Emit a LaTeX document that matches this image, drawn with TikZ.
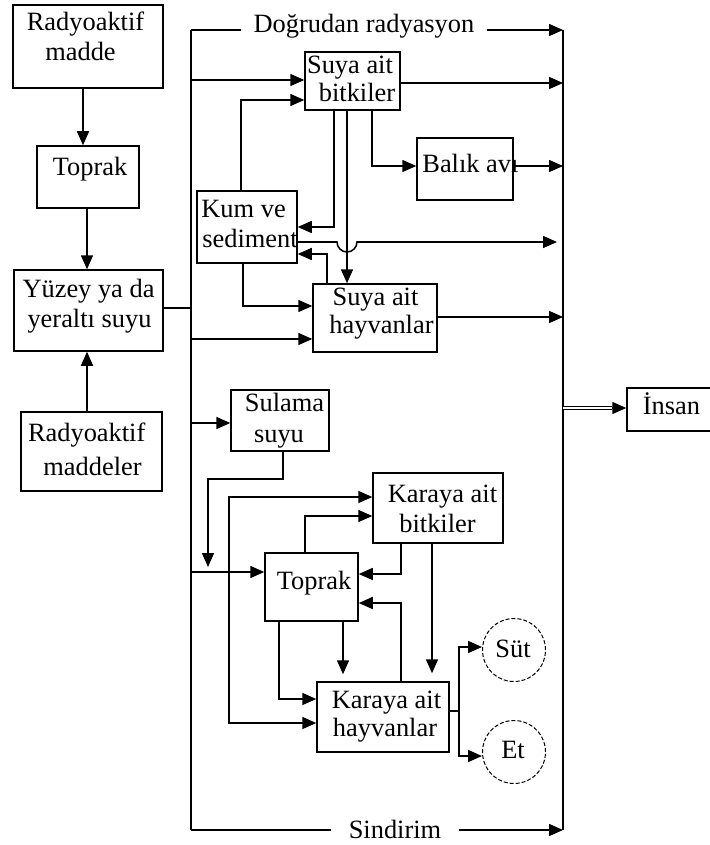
\documentclass[tikz,border=0pt]{standalone}
\usepackage{fontspec}
\setmainfont{Liberation Serif}
\usetikzlibrary{arrows.meta}
\begin{document}
\begin{tikzpicture}[x=0.5pt,y=-0.5pt,
  every node/.style={font=\fontsize{13.2}{15}\selectfont},
  bx/.style 2 args={draw, line width=0.75pt, minimum width={#1*0.5pt}, minimum height={#2*0.5pt}, inner sep=0pt},
  cir/.style={draw, circle, line width=0.5pt, dash pattern=on 2pt off 1pt, minimum size=31.5pt, inner sep=0pt},
  ln/.style={anchor=base, inner sep=0pt},
  lnw/.style={anchor=base west, inner sep=0pt},
  wire/.style={line width=0.75pt},
  arr/.style={line width=0.75pt, -{Triangle[length=7pt,width=6pt]}},
  arrs/.style={line width=0.75pt, {Triangle[length=7pt,width=6pt]}-{Triangle[length=7pt,width=6pt]}}]
\useasboundingbox (0,0) rectangle (710,845);
\clip (0,0) rectangle (710,845);

% left column
\node[bx={150}{83}] (rm) at (88,46.5) {};
\node[ln] (rmA) at (85.5,30.7) {Radyoaktif};
\node[ln] (rmB) at (80.5,60.7) {madde};
\node[bx={102}{62}] (tpL) at (88,177) {};
\node[ln] (tpLA) at (90,175.7) {Toprak};
\node[bx={149}{81}] (yuz) at (88.5,310.5) {};
\node[ln] (yuzA) at (88.5,297) {Yüzey ya da};
\node[ln] (yuzB) at (89.5,327) {yeraltı suyu};
\node[bx={141}{79}] (rmd) at (91.5,451.5) {};
\node[ln] (rmdA) at (86.7,441.7) {Radyoaktif};
\node[ln] (rmdB) at (92.5,475) {maddeler};

% aquatic part
\node[bx={95}{58}] (bitk) at (352.5,81) {};
\node[ln] (bitkA) at (350,73.3) {Suya ait};
\node[ln] (bitkB) at (357,101.7) {bitkiler};
\node[bx={96}{62}] (balik) at (465,169) {};
\node[lnw] (balikA) at (422,172.3) {Balık avı};
\node[bx={100}{72}] (kum) at (247,227) {};
\node[lnw] (kumA) at (201,217.3) {Kum ve};
\node[lnw] (kumB) at (202,247.3) {sediment};
\node[bx={124}{68}] (sh) at (375,318) {};
\node[ln] (shA) at (375.5,305) {Suya ait};
\node[ln] (shB) at (381.5,333.3) {hayvanlar};

% terrestrial part
\node[bx={98}{61}] (sul) at (280,420.5) {};
\node[ln] (sulA) at (284.5,411.7) {Sulama};
\node[ln] (sulB) at (279,442.7) {suyu};
\node[bx={130}{70}] (kb) at (438,508) {};
\node[ln] (kbA) at (442.5,502.7) {Karaya ait};
\node[ln] (kbB) at (437.5,532.3) {bitkiler};
\node[bx={93}{68}] (tpR) at (311.5,587) {};
\node[ln] (tpRA) at (314,589.3) {Toprak};
\node[bx={132}{70}] (kh) at (383,717) {};
\node[ln] (khA) at (386.5,708.3) {Karaya ait};
\node[ln] (khB) at (385,736) {hayvanlar};
\node[cir] (sut) at (514,650) {};
\node[ln] (sutA) at (513,657) {Süt};
\node[cir] (et) at (514,752) {};
\node[ln] (etA) at (513,758) {Et};

% receiver
\node[bx={90}{43}] (ins) at (672,409.5) {};
\node[ln] (insA) at (671.5,414.3) {İnsan};

% trunks
\coordinate (LT) at (191,30);
\coordinate (LB) at (191,830);
\coordinate (RT) at (563,30);
\coordinate (RB) at (563,830);
\draw[wire] (LT) -- (LB);
\draw[wire] (RT) -- (RB);

\node[ln, inner xsep=6pt] (dr) at (364,32.7) {Doğrudan radyasyon};
\draw[wire] (LT) -- (dr.west |- LT);
\draw[arr] (dr.east |- LT) -- (RT);
\node[ln, inner xsep=8.5pt] (sd) at (395,838.5) {Sindirim};
\draw[wire] (LB) -- (sd.west |- LB);
\draw[arr] (sd.east |- LB) -- (RB);

% left column links
\draw[arr] (83,0 |- rm.south) -- (83,0 |- tpL.north);
\draw[arr] (87,0 |- tpL.south) -- (87,0 |- yuz.north);
\draw[arr] (87,0 |- rmd.north) -- (87,0 |- yuz.south);
\draw[wire] (yuz.east |- 0,308) -- (LT |- 0,308);

% aquatic links
\draw[arr] (LT |- 0,80) -- (bitk.west |- 0,80);
\draw[arr] (241,0 |- kum.north) |- (bitk.west |- 0,100);
\draw[arr] (bitk.east |- 0,83) -- (RT |- 0,83);
\draw[arr] (334,0 |- bitk.south) |- (kum.east |- 0,227);
\draw[arr] (347,0 |- bitk.south) -- (347,0 |- sh.north);
\draw[arr] (372,0 |- bitk.south) |- (balik.west |- 0,166);
\draw[arr] (balik.east |- 0,166) -- (RT |- 0,166);
\draw[arr, shorten >=3pt] (kum.east |- 0,242) -- (337,242)
  arc[start angle=180, end angle=0, radius=10] -- (RT |- 0,242);
\draw[arr] (327,0 |- sh.north) |- (kum.east |- 0,254);
\draw[arr] (243,0 |- kum.south) |- (sh.west |- 0,306);
\draw[arr] (LT |- 0,339) -- (sh.west |- 0,339);
\draw[arr] (sh.east |- 0,317) -- (RT |- 0,317);

% terrestrial links
\draw[arr] (LT |- 0,423) -- (sul.west |- 0,423);
\coordinate (sulEnd) at (208,567);
\draw[arr] (283,0 |- sul.south) |- (208,479) -- (sulEnd);
\draw[arr] (LT |- 0,572) -- (tpR.west |- 0,572);
\draw[arrs] (kb.west |- 0,497) -| (229,723) -- (kh.west |- 0,723);
\draw[arr] (305,0 |- tpR.north) |- (kb.west |- 0,516);
\draw[arr] (401,0 |- kb.south) |- (tpR.east |- 0,574);
\draw[arr] (401,0 |- kh.north) |- (tpR.east |- 0,603);
\draw[arr, shorten >=4pt] (432,0 |- kb.south) -- (432,0 |- kh.north);
\draw[arr] (279,0 |- tpR.south) |- (kh.west |- 0,699);
\draw[arr, shorten >=3.5pt] (343,0 |- tpR.south) -- (343,0 |- kh.north);
\coordinate (split) at (459,711);
\draw[wire] (kh.east |- split) -- (split);
\draw[arr] (split) |- (sut.west |- 0,647);
\draw[arr] (split) |- (et.west |- 0,756);

% to the receiver
\coordinate (insFrom) at (563,408);
\coordinate (insJoin) at (612,408);
\draw[line width=0.5pt, double, double distance=1.4pt] (insFrom) -- (insJoin);
\draw[arr] (insJoin) -- (ins.west |- insJoin);
\end{tikzpicture}
\end{document}
